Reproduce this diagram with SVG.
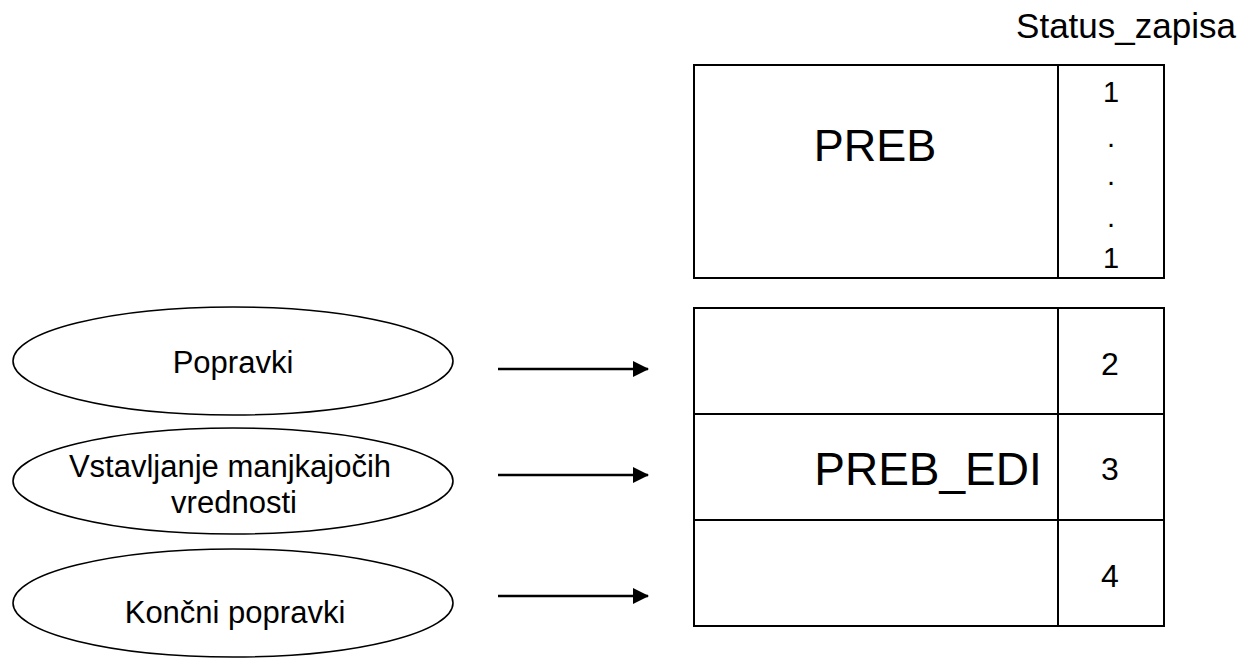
<svg xmlns="http://www.w3.org/2000/svg" width="1246" height="668" viewBox="0 0 1246 668">
<style>
.t{font-family:"Liberation Sans",Arial,sans-serif;fill:#000;text-anchor:middle}
.box{fill:#fff;stroke:#000;stroke-width:2}
.ln{stroke:#000;stroke-width:2;fill:none}
.el{fill:#fff;stroke:#000;stroke-width:1.6}
.ar{stroke:#000;stroke-width:2.5;fill:none;marker-end:url(#ah)}
</style>
<defs>
<marker id="ah" markerUnits="userSpaceOnUse" markerWidth="16" markerHeight="16" refX="15" refY="8" orient="auto">
<polygon points="0,0 16,8 0,16" fill="#000"/>
</marker>
</defs>
<rect width="1246" height="668" fill="#fff"/>
<text class="t" x="1126" y="38" font-size="35">Status_zapisa</text>
<g id="preb">
<rect class="box" x="694" y="65" width="470" height="213"/>
<line class="ln" x1="1058" y1="65" x2="1058" y2="278"/>
<text class="t" x="875" y="161" font-size="45">PREB</text>
<text class="t" x="1111" y="102" font-size="29">1</text>
<text class="t" x="1111" y="147" font-size="29">.</text>
<text class="t" x="1111" y="185" font-size="29">.</text>
<text class="t" x="1111" y="227" font-size="29">.</text>
<text class="t" x="1111" y="268" font-size="29">1</text>
</g>
<g id="preb_edi">
<rect class="box" x="694" y="308" width="470" height="318"/>
<line class="ln" x1="1058" y1="308" x2="1058" y2="626"/>
<line class="ln" x1="694" y1="414" x2="1164" y2="414"/>
<line class="ln" x1="694" y1="520" x2="1164" y2="520"/>
<text class="t" x="928" y="485" font-size="46">PREB_EDI</text>
<text class="t" x="1110" y="375" font-size="32">2</text>
<text class="t" x="1110" y="480" font-size="32">3</text>
<text class="t" x="1110" y="587" font-size="32">4</text>
</g>
<g id="popravki">
<ellipse class="el" cx="233" cy="361" rx="220" ry="54"/>
<text class="t" x="233" y="373" font-size="31">Popravki</text>
</g>
<g id="vstavljanje">
<ellipse class="el" cx="233" cy="481" rx="220" ry="53"/>
<text class="t" x="230" y="477" font-size="31">Vstavljanje manjkajočih</text>
<text class="t" x="234" y="513" font-size="31">vrednosti</text>
</g>
<g id="koncni">
<ellipse class="el" cx="233" cy="603" rx="220" ry="54"/>
<text class="t" x="235" y="623" font-size="31">Končni popravki</text>
</g>
<g id="connectors">
<line class="ar" x1="498" y1="369" x2="648" y2="369"/>
<line class="ar" x1="498" y1="475" x2="648" y2="475"/>
<line class="ar" x1="498" y1="596" x2="648" y2="596"/>
</g>
</svg>
